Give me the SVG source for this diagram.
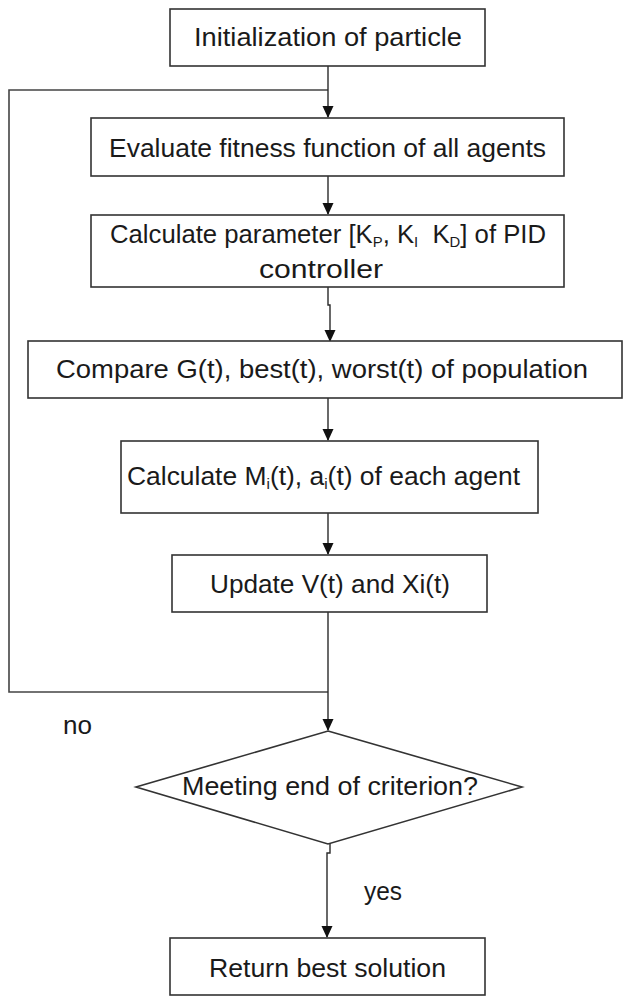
<svg xmlns="http://www.w3.org/2000/svg" width="626" height="996" viewBox="0 0 626 996">
<style>
.box{fill:#fff;stroke:#333;stroke-width:1.6}
.ln{fill:none;stroke:#2a2a2a;stroke-width:1.4}
.loop{fill:none;stroke:#444;stroke-width:1.6}
.t{font-family:"Liberation Sans",Arial,sans-serif;font-size:26px;fill:#1a1a1a}
.sub{font-size:15px}
</style>
<defs>
<marker id="arr" markerUnits="userSpaceOnUse" markerWidth="12" markerHeight="13" viewBox="0 0 13 12" refX="12" refY="6" orient="auto">
<path d="M0,0 L13,6 L0,12 Z" fill="#111"/>
</marker>
</defs>
<rect width="626" height="996" fill="#fff"/>
<g id="connectors">
<path class="loop" d="M328,692 H9 V90 H328"/>
<path class="ln" d="M328,66 V117" marker-end="url(#arr)"/>
<path class="ln" d="M328,176 V214" marker-end="url(#arr)"/>
<path class="ln" d="M328,287 V305 H330 V341" marker-end="url(#arr)"/>
<path class="ln" d="M328,398 V440" marker-end="url(#arr)"/>
<path class="ln" d="M328,513 V554" marker-end="url(#arr)"/>
<path class="ln" d="M328,612 V730" marker-end="url(#arr)"/>
<path class="ln" d="M330,844 V853 H327 V937" marker-end="url(#arr)"/>
<text class="t" x="63" y="734" textLength="29" lengthAdjust="spacingAndGlyphs">no</text>
<text class="t" x="364" y="900" textLength="38" lengthAdjust="spacingAndGlyphs">yes</text>
</g>
<g id="n1">
<rect class="box" x="170" y="9" width="315" height="57"/>
<text class="t" x="194" y="46" textLength="268" lengthAdjust="spacingAndGlyphs">Initialization of particle</text>
</g>
<g id="n2">
<rect class="box" x="91" y="118" width="473" height="58"/>
<text class="t" x="109" y="157" textLength="437" lengthAdjust="spacingAndGlyphs">Evaluate fitness function of all agents</text>
</g>
<g id="n3">
<rect class="box" x="91" y="215" width="473" height="72"/>
<text class="t" x="110" y="243" textLength="436" lengthAdjust="spacingAndGlyphs">Calculate parameter [K<tspan class="sub" dy="4">P</tspan><tspan dy="-4">, K</tspan><tspan class="sub" dy="4">I</tspan><tspan dy="-4">&#160; K</tspan><tspan class="sub" dy="4">D</tspan><tspan dy="-4">] of PID</tspan></text>
<text class="t" x="259" y="278" textLength="124" lengthAdjust="spacingAndGlyphs">controller</text>
</g>
<g id="n4">
<rect class="box" x="28" y="341" width="594" height="57"/>
<text class="t" x="56" y="378" textLength="532" lengthAdjust="spacingAndGlyphs">Compare G(t), best(t), worst(t) of population</text>
</g>
<g id="n5">
<rect class="box" x="121" y="441" width="417" height="72"/>
<text class="t" x="127" y="485" textLength="393" lengthAdjust="spacingAndGlyphs">Calculate M<tspan class="sub" dy="4">i</tspan><tspan dy="-4">(t), a</tspan><tspan class="sub" dy="4">i</tspan><tspan dy="-4">(t) of each agent</tspan></text>
</g>
<g id="n6">
<rect class="box" x="172" y="555" width="315" height="57"/>
<text class="t" x="210" y="593" textLength="240" lengthAdjust="spacingAndGlyphs">Update V(t) and Xi(t)</text>
</g>
<g id="n7">
<path class="box" d="M328,731 L522,787 L328,844 L136,787 Z"/>
<text class="t" x="182" y="795" textLength="296" lengthAdjust="spacingAndGlyphs">Meeting end of criterion?</text>
</g>
<g id="n8">
<rect class="box" x="170" y="938" width="315" height="57"/>
<text class="t" x="209" y="977" textLength="237" lengthAdjust="spacingAndGlyphs">Return best solution</text>
</g>
</svg>
